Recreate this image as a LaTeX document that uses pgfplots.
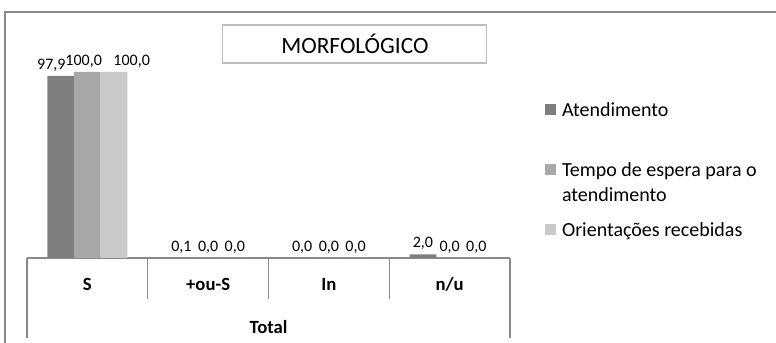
\documentclass[border=0pt]{standalone}
\usepackage{pgfplots}
\pgfplotsset{compat=1.18}
\usepackage{fontspec}
\setmainfont{Carlito}

\definecolor{serA}{RGB}{127,127,127}
\definecolor{serB}{RGB}{168,168,168}
\definecolor{serC}{RGB}{201,201,201}
\definecolor{framegray}{RGB}{137,137,137}
\definecolor{titlegray}{RGB}{191,191,191}

% legend square, baseline aligned
\pgfplotsset{sqlegend/.style={legend image code/.code={\fill[##1] (0pt,0.75pt) rectangle (8.25pt,9pt);}}}
\newcommand{\entry}[2]{\vtop{\hbox{\strut #1}\hbox{\strut #2}}}

\begin{document}
\begin{tikzpicture}
\useasboundingbox (0,0) rectangle (582pt,257.25pt);
\begin{axis}[
    at={(20.25pt,63.75pt)}, anchor=south west,
    scale only axis, width=362.25pt, height=139.5pt,
    xmin=-0.5, xmax=3.5, ymin=0, ymax=100,
    axis x line*=bottom, axis y line=none,
    x axis line style={framegray, line width=1pt},
    xtick={0,1,2,3},
    xticklabels={S,+ou-S,In,n/u},
    major tick length=0pt,
    xticklabel style={font=\fontsize{14}{17}\selectfont\bfseries, anchor=base, yshift=-24.75pt},
    xlabel={Total},
    xlabel style={at={(axis description cs:0.5,0)}, anchor=base, yshift=-56.25pt,
        font=\fontsize{14}{17}\selectfont\bfseries},
    title={MORFOLÓGICO},
    title style={at={(axis description cs:0.679,1.1075)}, anchor=center,
        draw=titlegray, line width=0.8pt, minimum width=198pt, minimum height=28.5pt,
        inner sep=0pt, font=\fontsize{17.5}{21}\selectfont},
    ybar=0pt, bar width=20pt, clip=false,
    nodes near coords,
    nodes near coords style={font=\fontsize{12}{14}\selectfont},
    /pgf/number format/fixed,
    /pgf/number format/fixed zerofill,
    /pgf/number format/precision=1,
    /pgf/number format/use comma,
    /pgf/number format/assume math mode=true,
    legend style={at={(axis description cs:1.0725,0.857)}, anchor=north west,
        draw=none, fill=none, inner sep=0pt, outer sep=0pt,
        row sep=30.5pt, column sep=4.5pt,
        font=\fontsize{15}{18.75}\selectfont,
        cells={anchor=base west}, nodes={inner sep=0pt}},
]
\addplot[fill=serA, draw=none, sqlegend,
    coordinate style/.condition={x==0}{xshift=-7pt}]
    coordinates {(0,97.9) (1,0.1) (2,0.0) (3,2.0)};
\addlegendentry{\entry{Atendimento}{}}
\addplot[fill=serB, draw=none, sqlegend,
    coordinate style/.condition={x==0}{xshift=-2.75pt}]
    coordinates {(0,100.0) (1,0.0) (2,0.0) (3,0.0)};
\addlegendentry{\entry{Tempo de espera para o}{atendimento}}
\addplot[fill=serC, draw=none, sqlegend,
    coordinate style/.condition={x==0}{xshift=13.25pt}]
    coordinates {(0,100.0) (1,0.0) (2,0.0) (3,0.0)};
\addlegendentry{\entry{Orientações recebidas}{}}

% category boxes under the axis
\draw[framegray, line width=1pt] (axis cs:-0.5,0) -- ++(0pt,-60pt);
\draw[framegray, line width=1pt] (axis cs:3.5,0) -- ++(0pt,-60pt);
\draw[framegray, line width=1pt] (axis cs:0.5,0) -- ++(0pt,-30.75pt);
\draw[framegray, line width=1pt] (axis cs:1.5,0) -- ++(0pt,-30.75pt);
\draw[framegray, line width=1pt] (axis cs:2.5,0) -- ++(0pt,-30.75pt);
\end{axis}
% chart area border
\draw[framegray, line width=1.1pt] (3.75pt,0pt) -- (3.75pt,248.25pt) -- (582pt,248.25pt);
\end{tikzpicture}
\end{document}
